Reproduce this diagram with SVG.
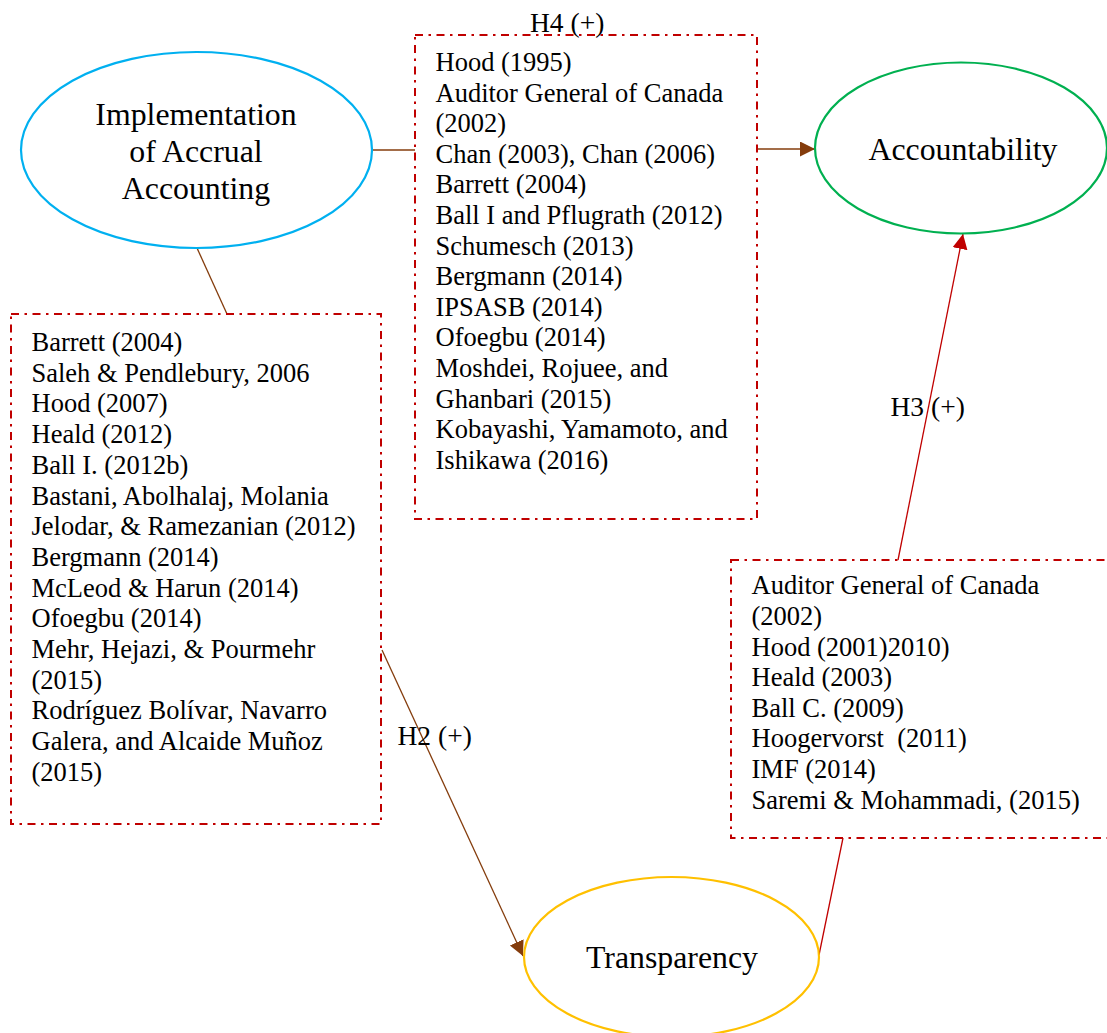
<svg xmlns="http://www.w3.org/2000/svg" width="1107" height="1033" viewBox="0 0 1107 1033">
<style>
text{font-family:"Liberation Serif","Times New Roman",serif;fill:#000}
.big{font-size:31.8px}
.ref{font-size:26.5px}
.lab{font-size:27.5px}
.box{fill:none;stroke:#C00000;stroke-width:2;stroke-dasharray:8 5.5 2.5 5.5}
.ell{fill:#fff;stroke-width:2.2}
.brown{stroke:#843C0C;stroke-width:1.3;fill:none}
.red{stroke:#C00000;stroke-width:1.3;fill:none}
</style>
<defs>
<marker id="ab" markerWidth="16" markerHeight="16" refX="15" refY="7.5" orient="auto" markerUnits="userSpaceOnUse">
<path d="M0,0 L15,7.5 L0,15 Z" fill="#843C0C"/>
</marker>
<marker id="ar" markerWidth="16" markerHeight="16" refX="15" refY="7.5" orient="auto" markerUnits="userSpaceOnUse">
<path d="M0,0 L15,7.5 L0,15 Z" fill="#C00000"/>
</marker>
</defs>
<g id="connectors">
<line class="brown" x1="372" y1="150" x2="415" y2="150"/>
<line class="brown" x1="757" y1="149" x2="815" y2="149" marker-end="url(#ab)"/>
<line class="brown" x1="197" y1="248" x2="227" y2="314"/>
<line class="brown" x1="382" y1="650" x2="523" y2="956" marker-end="url(#ab)"/>
<line class="red" x1="819" y1="955" x2="843" y2="838"/>
<line class="red" x1="898" y1="560" x2="963" y2="234" marker-end="url(#ar)"/>
<text class="lab" x="530" y="32">H4 (+)</text>
<text class="lab" x="890.5" y="416">H3 (+)</text>
<text class="lab" x="397.5" y="745">H2 (+)</text>
</g>
<g id="accrual">
<ellipse class="ell" cx="196.5" cy="150" rx="175.5" ry="98" stroke="#00B0F0"/>
<text class="big" x="196" y="125" text-anchor="middle">Implementation</text>
<text class="big" x="196" y="162" text-anchor="middle">of Accrual</text>
<text class="big" x="196" y="199" text-anchor="middle">Accounting</text>
</g>
<g id="accountability">
<ellipse class="ell" cx="961" cy="148" rx="146" ry="85.5" stroke="#00B050"/>
<text class="big" x="963" y="160" text-anchor="middle">Accountability</text>
</g>
<g id="transparency">
<ellipse class="ell" cx="671.5" cy="957" rx="147.5" ry="80" stroke="#FFC000"/>
<text class="big" x="672" y="968" text-anchor="middle">Transparency</text>
</g>
<g id="box-h4">
<rect class="box" x="415" y="35" width="342" height="484"/>
<text class="ref" x="435.5">
<tspan x="435.5" y="71">Hood (1995)</tspan>
<tspan x="435.5" y="101.6">Auditor General of Canada</tspan>
<tspan x="435.5" y="132.2">(2002)</tspan>
<tspan x="435.5" y="162.8">Chan (2003), Chan (2006)</tspan>
<tspan x="435.5" y="193.4">Barrett (2004)</tspan>
<tspan x="435.5" y="224">Ball I and Pflugrath (2012)</tspan>
<tspan x="435.5" y="254.6">Schumesch (2013)</tspan>
<tspan x="435.5" y="285.2">Bergmann (2014)</tspan>
<tspan x="435.5" y="315.8">IPSASB (2014)</tspan>
<tspan x="435.5" y="346.4">Ofoegbu (2014)</tspan>
<tspan x="435.5" y="377">Moshdei, Rojuee, and</tspan>
<tspan x="435.5" y="407.6">Ghanbari (2015)</tspan>
<tspan x="435.5" y="438.2">Kobayashi, Yamamoto, and</tspan>
<tspan x="435.5" y="468.8">Ishikawa (2016)</tspan>
</text>
</g>
<g id="box-h2">
<rect class="box" x="11" y="314" width="370" height="510"/>
<text class="ref">
<tspan x="31.5" y="351">Barrett (2004)</tspan>
<tspan x="31.5" y="381.7">Saleh &amp; Pendlebury, 2006</tspan>
<tspan x="31.5" y="412.4">Hood (2007)</tspan>
<tspan x="31.5" y="443.1">Heald (2012)</tspan>
<tspan x="31.5" y="473.8">Ball I. (2012b)</tspan>
<tspan x="31.5" y="504.5">Bastani, Abolhalaj, Molania</tspan>
<tspan x="31.5" y="535.2">Jelodar, &amp; Ramezanian (2012)</tspan>
<tspan x="31.5" y="565.9">Bergmann (2014)</tspan>
<tspan x="31.5" y="596.6">McLeod &amp; Harun (2014)</tspan>
<tspan x="31.5" y="627.3">Ofoegbu (2014)</tspan>
<tspan x="31.5" y="658">Mehr, Hejazi, &amp; Pourmehr</tspan>
<tspan x="31.5" y="688.7">(2015)</tspan>
<tspan x="31.5" y="719.4">Rodríguez Bolívar, Navarro</tspan>
<tspan x="31.5" y="750.1">Galera, and Alcaide Muñoz</tspan>
<tspan x="31.5" y="780.8">(2015)</tspan>
</text>
</g>
<g id="box-h3">
<rect class="box" x="731" y="560" width="390" height="278"/>
<text class="ref">
<tspan x="751.5" y="594.3">Auditor General of Canada</tspan>
<tspan x="751.5" y="624.9">(2002)</tspan>
<tspan x="751.5" y="655.5">Hood (2001)2010)</tspan>
<tspan x="751.5" y="686.1">Heald (2003)</tspan>
<tspan x="751.5" y="716.7">Ball C. (2009)</tspan>
<tspan x="751.5" y="747.3">Hoogervorst&#160; (2011)</tspan>
<tspan x="751.5" y="777.9">IMF (2014)</tspan>
<tspan x="751.5" y="808.5">Saremi &amp; Mohammadi, (2015)</tspan>
</text>
</g>
</svg>
